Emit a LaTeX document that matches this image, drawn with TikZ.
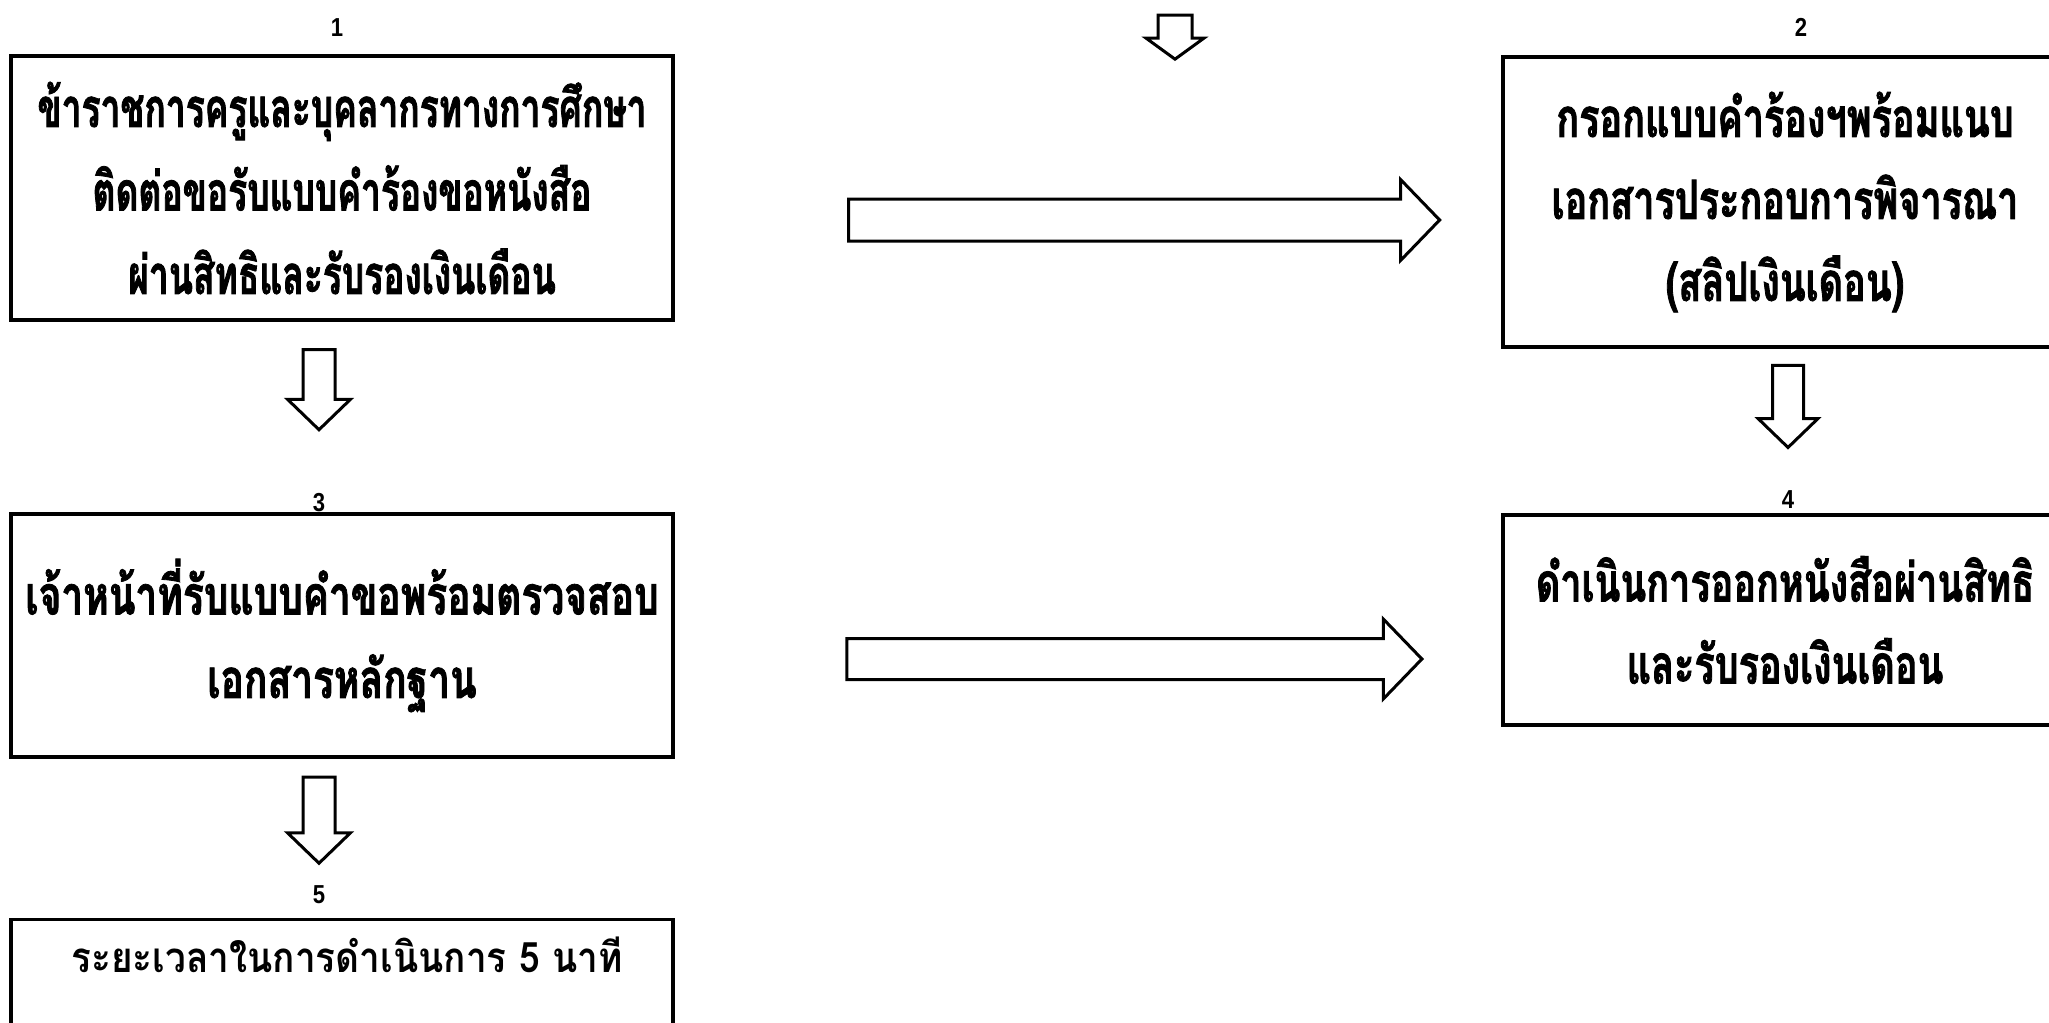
\documentclass[tikz,border=0pt]{standalone}
\usepackage{fontspec}
\newfontfamily\thaifont[Script=Thai,FakeStretch=0.72,BoldFeatures={FakeBold=1.5}]{Loma}
\newfontfamily\thaicond[Script=Thai,FakeStretch=0.655,BoldFeatures={FakeBold=1.5}]{Loma}
\newfontfamily\thainarrow[Script=Thai,FakeStretch=0.70,BoldFeatures={FakeBold=1.5}]{Loma}
\newfontfamily\thaiwide[Script=Thai,FakeStretch=0.88]{Loma}
\newfontfamily\numfont[FakeStretch=0.85]{Liberation Sans}
\usetikzlibrary{shapes.arrows}
\begin{document}
\begin{tikzpicture}[x=0.5pt,y=-0.5pt,
  box/.style={rectangle,draw=black,line width=1.7pt,inner sep=0pt,align=center},
  lefttext/.style={font=\thaifont\bfseries\fontsize{27}{41.75}\selectfont},
  righttext/.style={font=\thainarrow\bfseries\fontsize{27}{41}\selectfont},
  num/.style={font=\numfont\bfseries\fontsize{13}{15}\selectfont,inner sep=0pt},
  blockarrow/.style={single arrow,draw=black,line width=1.5pt,single arrow tip angle=92},
  rarrow/.style={blockarrow,inner xsep=0pt,inner ysep=9.75pt,single arrow head extend=9.75pt},
  darrow/.style={blockarrow,shape border rotate=270,inner ysep=0pt,inner xsep=7.25pt,single arrow head extend=7.75pt}]

\useasboundingbox (0,0) rectangle (2049,1022);
\clip (0,0) rectangle (2049,1022);

% left column
\node[num] (n1) at (337,28) {1};
\node[box,lefttext,font=\thaicond\bfseries\fontsize{27}{41.75}\selectfont,minimum width=331pt,minimum height=132pt] (b1) at (342,188)
  {ข้าราชการครูและบุคลากรทางการศึกษา\\ติดต่อขอรับแบบคำร้องขอหนังสือ\\ผ่านสิทธิและรับรองเงินเดือน};
\node[darrow,minimum height=40pt] (d1) at (319,382) {};
\node[num] (n3) at (319,503) {3};
\node[box,lefttext,minimum width=331pt,minimum height=121.5pt] (b3) at (342,635.5)
  {\raisebox{-3pt}{เจ้าหน้าที่รับแบบคำขอพร้อมตรวจสอบ}\\\raisebox{-3pt}{เอกสารหลักฐาน}};
\node[darrow,minimum height=43pt] (d2) at (319,812.5) {};
\node[num] (n5) at (319,895) {5};
\node[box,minimum width=331pt,minimum height=80pt,anchor=north] (b5) at (342,918) {};
\node[font=\thaiwide\bfseries\fontsize{21}{24}\selectfont] (t5) at (347,955) {ระยะเวลาในการดำเนินการ 5 นาที};

% middle
\node[darrow,minimum height=22pt,inner xsep=7.75pt,single arrow head extend=6pt,single arrow tip angle=108] (d0) at (1175,31) {};
\node[rarrow,minimum height=295.5pt] (r1) at (1134,220) {};
\node[rarrow,minimum height=287.5pt,inner ysep=9.5pt] (r2) at (1124.5,659) {};

% right column
\node[num] (n2) at (1801,27) {2};
\node[box,righttext,minimum width=282pt,minimum height=145pt] (b2) at (1785,202)
  {กรอกแบบคำร้องฯพร้อมแนบ\\เอกสารประกอบการพิจารณา\\(สลิปเงินเดือน)};
\node[darrow,minimum height=41pt,inner xsep=7pt,single arrow head extend=7.25pt] (d3) at (1788,399) {};
\node[num] (n4) at (1788,500) {4};
\node[box,righttext,minimum width=282pt,minimum height=105pt] (b4) at (1785,620)
  {ดำเนินการออกหนังสือผ่านสิทธิ\\และรับรองเงินเดือน};

\end{tikzpicture}
\end{document}
